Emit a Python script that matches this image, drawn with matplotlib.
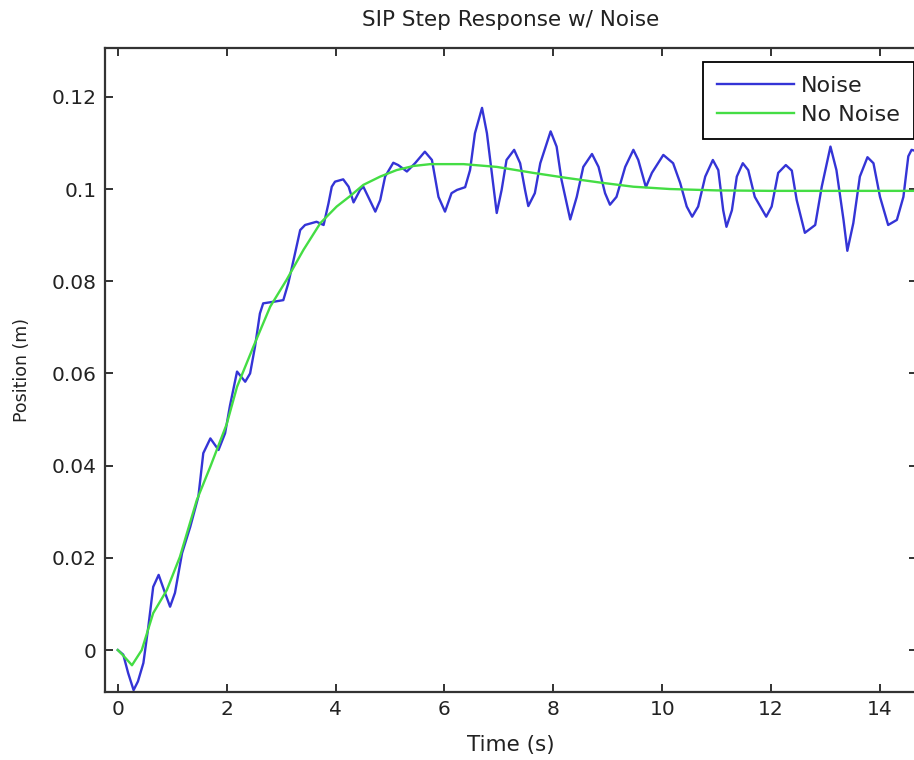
import matplotlib.pyplot as plt

# values
noise_t = [0.00, 0.10, 0.19, 0.29, 0.37, 0.47, 0.56, 0.65, 0.75, 0.87, 0.96, 1.05,
           1.18, 1.33, 1.48, 1.57, 1.70, 1.85, 1.97, 2.06, 2.12, 2.19, 2.34, 2.43,
           2.52, 2.61, 2.67, 2.89, 3.04, 3.13, 3.20, 3.35, 3.44, 3.65, 3.78, 3.87,
           3.93, 3.99, 4.14, 4.24, 4.33, 4.45, 4.51, 4.60, 4.73, 4.82, 4.91, 5.06,
           5.15, 5.31, 5.46, 5.64, 5.77, 5.89, 6.01, 6.13, 6.23, 6.38, 6.47, 6.56,
           6.69, 6.78, 6.87, 6.96, 7.05, 7.14, 7.28, 7.39, 7.48, 7.54, 7.66, 7.76,
           7.95, 8.06, 8.15, 8.31, 8.43, 8.55, 8.71, 8.83, 8.95, 9.04, 9.16, 9.32,
           9.47, 9.56, 9.70, 9.81, 10.02, 10.20, 10.33, 10.45, 10.55, 10.66, 10.79,
           10.93, 11.03, 11.12, 11.18, 11.28, 11.37, 11.48, 11.58, 11.70, 11.91,
           12.01, 12.13, 12.27, 12.38, 12.47, 12.62, 12.81, 12.93, 13.09, 13.20,
           13.33, 13.40, 13.51, 13.63, 13.77, 13.88, 14.00, 14.15, 14.31, 14.43,
           14.52, 14.58, 14.70]
noise_y = [0.0000, -0.0010, -0.0050, -0.0087, -0.0068, -0.0028, 0.0050, 0.0137,
           0.0163, 0.0123, 0.0094, 0.0124, 0.0210, 0.0267, 0.0333, 0.0427, 0.0459,
           0.0434, 0.0470, 0.0530, 0.0564, 0.0604, 0.0582, 0.0600, 0.0658, 0.0730,
           0.0752, 0.0756, 0.0759, 0.0795, 0.0831, 0.0911, 0.0922, 0.0929, 0.0922,
           0.0969, 0.1005, 0.1016, 0.1021, 0.1005, 0.0971, 0.0998, 0.1005, 0.0983,
           0.0951, 0.0976, 0.1027, 0.1057, 0.1052, 0.1038, 0.1056, 0.1081, 0.1063,
           0.0983, 0.0951, 0.0991, 0.0998, 0.1004, 0.1041, 0.1121, 0.1176, 0.1121,
           0.1035, 0.0948, 0.0998, 0.1063, 0.1085, 0.1056, 0.0998, 0.0963, 0.0991,
           0.1056, 0.1125, 0.1092, 0.1020, 0.0934, 0.0983, 0.1048, 0.1076, 0.1048,
           0.0991, 0.0966, 0.0983, 0.1048, 0.1085, 0.1063, 0.1004, 0.1035, 0.1074,
           0.1056, 0.1013, 0.0962, 0.0940, 0.0962, 0.1027, 0.1063, 0.1041, 0.0954,
           0.0918, 0.0954, 0.1027, 0.1056, 0.1041, 0.0983, 0.0940, 0.0962, 0.1035,
           0.1052, 0.1040, 0.0976, 0.0905, 0.0922, 0.1005, 0.1092, 0.1041, 0.0933,
           0.0866, 0.0926, 0.1027, 0.1069, 0.1056, 0.0983, 0.0922, 0.0933, 0.0983,
           0.1071, 0.1085, 0.1081]

clean_t = [0.00, 0.10, 0.26, 0.44, 0.65, 0.90, 1.14, 1.45, 1.70, 2.00, 2.19, 2.49,
           2.80, 3.10, 3.41, 3.72, 4.02, 4.27, 4.51, 4.82, 5.12, 5.43, 5.74, 6.35,
           6.96, 7.63, 8.25, 8.86, 9.47, 10.14, 11.00, 12.00, 13.00, 14.70]
clean_y = [0.0000, -0.0012, -0.0033, 0.0000, 0.0080, 0.0130, 0.0202, 0.0325,
           0.0398, 0.0490, 0.0571, 0.0658, 0.0745, 0.0803, 0.0868, 0.0926, 0.0962,
           0.0985, 0.1009, 0.1027, 0.1041, 0.1050, 0.1054, 0.1054, 0.1048, 0.1035,
           0.1024, 0.1014, 0.1005, 0.1000, 0.0997, 0.0996, 0.0996, 0.0996]

x_ticks = [0, 2, 4, 6, 8, 10, 12, 14]
y_ticks = [0, 0.02, 0.04, 0.06, 0.08, 0.10, 0.12]
y_tick_labels = ["0", "0.02", "0.04", "0.06", "0.08", "0.1", "0.12"]

TXT = "#222222"

fig = plt.figure(figsize=(9.14, 7.6), dpi=100)
ax = fig.add_axes([0.1146, 0.0895, 0.8887, 0.8474])

ax.plot(noise_t, noise_y, color="#3434d6", lw=1.7, label="Noise", solid_joinstyle="round")
ax.plot(clean_t, clean_y, color="#44dd44", lw=1.7, label="No Noise")

ax.set_xlim(-0.24, 14.68)
ax.set_ylim(-0.0091, 0.1306)
ax.set_xticks(x_ticks)
ax.set_yticks(y_ticks)
ax.set_yticklabels(y_tick_labels)
ax.tick_params(direction="in", top=True, right=True, length=6, width=1.3,
               labelsize=14.5, colors=TXT, pad=6)
for s in ax.spines.values():
    s.set_linewidth(1.6)
    s.set_color("#333333")

ax.set_title("SIP Step Response w/ Noise", fontsize=15.5, color=TXT, pad=16)
ax.set_xlabel("Time (s)", fontsize=15.5, color=TXT, labelpad=11)
ax.set_ylabel("Position (m)", fontsize=12.5, color=TXT, labelpad=15)

leg = ax.legend(loc="upper right", bbox_to_anchor=(0.9957, 0.978), borderaxespad=0,
                fontsize=16, handlelength=3.47, handletextpad=0.3, labelspacing=0.4,
                fancybox=False, framealpha=1, edgecolor="black", borderpad=0.63,
                labelcolor=TXT)
leg.get_frame().set_linewidth(1.3)

fig.savefig("out.png", dpi=100)
